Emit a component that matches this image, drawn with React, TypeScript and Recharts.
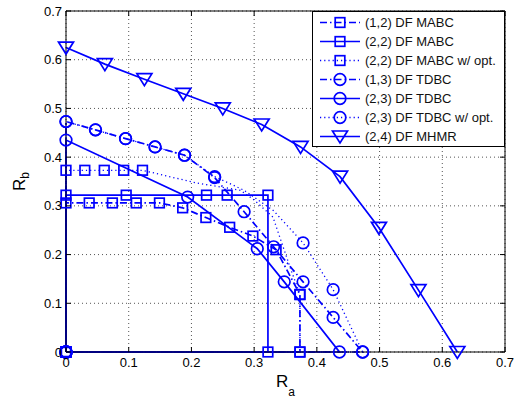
import React from "react";
import {
  CartesianGrid,
  Line,
  LineChart,
  ReferenceLine,
  XAxis,
  YAxis,
} from "recharts";

const BLUE = "#0000ff";
const TICKS = [0, 0.1, 0.2, 0.3, 0.4, 0.5, 0.6, 0.7];

// plot box edges in px (follow from the chart margins below)
const PLOT_TOP = 11;
const PLOT_RIGHT = 505;
const TICK_LEN = 5;

// (1,2) DF MABC
const MABC12_RA = [0, 0, 0.037, 0.074, 0.112, 0.149, 0.186, 0.223, 0.261, 0.298, 0.335, 0.373, 0.373, 0];
const MABC12_RB = [0, 0.306, 0.306, 0.306, 0.306, 0.306, 0.296, 0.276, 0.256, 0.238, 0.21, 0.118, 0, 0];

// (2,2) DF MABC
const MABC22_RA = [0, 0, 0.096, 0.224, 0.257, 0.322, 0.322, 0];
const MABC22_RB = [0, 0.322, 0.322, 0.322, 0.322, 0.322, 0, 0];

// (2,2) DF MABC w/ opt.
const MABCOPT_RA = [0, 0, 0.03, 0.061, 0.092, 0.122, 0.208, 0.278, 0.3, 0.33, 0.357, 0.373, 0.373, 0];
const MABCOPT_RB = [0, 0.373, 0.373, 0.373, 0.373, 0.373, 0.347, 0.332, 0.312, 0.277, 0.175, 0.118, 0, 0];

// (1,3) DF TDBC
const TDBC13_RA = [0, 0, 0.047, 0.095, 0.142, 0.189, 0.237, 0.284, 0.331, 0.378, 0.426, 0.473, 0];
const TDBC13_RB = [0, 0.473, 0.456, 0.438, 0.421, 0.404, 0.358, 0.288, 0.216, 0.144, 0.071, 0, 0];

// (2,3) DF TDBC
const TDBC23_RA = [0, 0, 0.194, 0.305, 0.348, 0.436, 0];
const TDBC23_RB = [0, 0.435, 0.318, 0.212, 0.144, 0, 0];

// (2,3) DF TDBC w/ opt.
const TDBCOPT_RA = [0, 0, 0.047, 0.095, 0.142, 0.189, 0.237, 0.284, 0.331, 0.378, 0.426, 0.473, 0];
const TDBCOPT_RB = [0, 0.473, 0.456, 0.438, 0.421, 0.404, 0.36, 0.332, 0.29, 0.224, 0.128, 0, 0];

// (2,4) DF MHMR
const MHMR_RA = [0, 0.062, 0.125, 0.187, 0.25, 0.312, 0.374, 0.437, 0.499, 0.562, 0.624];
const MHMR_RB = [0.625, 0.591, 0.56, 0.53, 0.5, 0.467, 0.421, 0.36, 0.255, 0.127, 0];

const toPoints = (ra: number[], rb: number[]) =>
  ra.map((x, i) => ({ ra: x, rb: rb[i] }));

type Shape = "square" | "circle" | "triangle";

interface Series {
  name: string;
  data: { ra: number; rb: number }[];
  dash?: string;
  width: number;
  shape: Shape;
  marks?: number[];
}

const DASHDOT = "7 3 1.5 3";
const DOTTED = "1.2 3";

const SERIES: Series[] = [
  { name: "(1,2) DF MABC", data: toPoints(MABC12_RA, MABC12_RB), dash: DASHDOT, width: 1.7, shape: "square" },
  { name: "(2,2) DF MABC", data: toPoints(MABC22_RA, MABC22_RB), width: 1.7, shape: "square" },
  {
    name: "(2,2) DF MABC w/ opt.",
    data: toPoints(MABCOPT_RA, MABCOPT_RB),
    dash: DOTTED,
    width: 1.3,
    shape: "square",
    marks: [0, 1, 2, 3, 4, 5, 11, 12, 13],
  },
  { name: "(1,3) DF TDBC", data: toPoints(TDBC13_RA, TDBC13_RB), dash: DASHDOT, width: 1.7, shape: "circle" },
  { name: "(2,3) DF TDBC", data: toPoints(TDBC23_RA, TDBC23_RB), width: 1.7, shape: "circle" },
  {
    name: "(2,3) DF TDBC w/ opt.",
    data: toPoints(TDBCOPT_RA, TDBCOPT_RB),
    dash: DOTTED,
    width: 1.3,
    shape: "circle",
    marks: [0, 1, 2, 3, 4, 5, 6, 9, 10, 11, 12],
  },
  { name: "(2,4) DF MHMR", data: toPoints(MHMR_RA, MHMR_RB), width: 1.7, shape: "triangle" },
];

function Marker({ shape, cx, cy }: { shape: Shape; cx: number; cy: number }) {
  const common = { fill: "none", stroke: BLUE, strokeWidth: 1.7 };
  if (shape === "square") {
    return <rect x={cx - 4.8} y={cy - 4.8} width={9.6} height={9.6} {...common} />;
  }
  if (shape === "circle") {
    return <circle cx={cx} cy={cy} r={5.8} {...common} />;
  }
  return (
    <polygon
      points={`${cx - 7.5},${cy - 5.5} ${cx + 7.5},${cy - 5.5} ${cx},${cy + 6.5}`}
      {...common}
    />
  );
}

const FONT = "Arial, 'Liberation Sans', sans-serif";

// tick label plus MATLAB-style inward tick marks on both sides of the box
function XTick({ x, y, payload }: any) {
  const axisY = y - 6;
  return (
    <g>
      <line x1={x} x2={x} y1={axisY} y2={axisY - TICK_LEN} stroke="#000" />
      <line x1={x} x2={x} y1={PLOT_TOP} y2={PLOT_TOP + TICK_LEN} stroke="#000" />
      <text x={x} y={y} dy="0.71em" textAnchor="middle" fontSize={13} fill="#000" fontFamily={FONT}>
        {payload.value}
      </text>
    </g>
  );
}

function YTick({ x, y, payload }: any) {
  const axisX = x + 4;
  return (
    <g>
      <line x1={axisX} x2={axisX + TICK_LEN} y1={y} y2={y} stroke="#000" />
      <line x1={PLOT_RIGHT} x2={PLOT_RIGHT - TICK_LEN} y1={y} y2={y} stroke="#000" />
      <text x={x} y={y} dy="0.355em" textAnchor="end" fontSize={13} fill="#000" fontFamily={FONT}>
        {payload.value}
      </text>
    </g>
  );
}

const RaLabel = () => (
  <text x={276} y={387} fill="#000" fontSize={17} fontFamily={FONT}>
    R
    <tspan dy={9} fontSize={12}>
      a
    </tspan>
  </text>
);

const RbLabel = () => (
  <text transform="translate(25,191) rotate(-90)" fill="#000" fontSize={17} fontFamily={FONT}>
    R
    <tspan dy={4} fontSize={12}>
      b
    </tspan>
  </text>
);

export default function App() {
  return (
    <div style={{ position: "absolute", left: 0, top: 0, width: 515, height: 400, background: "#fff" }}>
      <LineChart width={515} height={400} margin={{ top: PLOT_TOP, right: 10, left: 0, bottom: 18 }}>
        <CartesianGrid stroke="#555" strokeDasharray="1 3" />
        <XAxis
          type="number"
          dataKey="ra"
          domain={[0, 0.7]}
          ticks={TICKS}
          height={30}
          tickLine={false}
          tickSize={0}
          tickMargin={6}
          axisLine={{ stroke: "#000" }}
          tick={<XTick />}
          allowDuplicatedCategory={false}
        />
        <YAxis
          type="number"
          dataKey="rb"
          domain={[0, 0.7]}
          ticks={TICKS}
          width={66}
          tickLine={false}
          tickSize={0}
          tickMargin={4}
          axisLine={{ stroke: "#000" }}
          tick={<YTick />}
        />
        <ReferenceLine y={0.7} stroke="#000" />
        <ReferenceLine x={0.7} stroke="#000" />
        {SERIES.map((s) => (
          <Line
            key={s.name}
            data={s.data}
            dataKey="rb"
            type="linear"
            stroke={BLUE}
            strokeWidth={s.width}
            strokeDasharray={s.dash}
            isAnimationActive={false}
            dot={(p: any) =>
              !s.marks || s.marks.includes(p.index) ? (
                <Marker key={p.index} shape={s.shape} cx={p.cx} cy={p.cy} />
              ) : (
                <g key={p.index} />
              )
            }
            activeDot={false}
          />
        ))}
        <RaLabel />
        <RbLabel />
      </LineChart>

      <div
        style={{
          position: "absolute",
          left: 312,
          top: PLOT_TOP,
          width: 193,
          height: 136,
          boxSizing: "border-box",
          border: "1px solid #000",
          background: "#fff",
          fontFamily: FONT,
          fontSize: 13,
        }}
      >
        {SERIES.map((s, i) => (
          <div
            key={s.name}
            style={{
              position: "absolute",
              left: 0,
              top: 1 + i * 19,
              height: 19,
              display: "flex",
              alignItems: "center",
              whiteSpace: "nowrap",
            }}
          >
            <svg width={52} height={19} style={{ display: "block" }}>
              <line
                x1={7}
                x2={47}
                y1={9.5}
                y2={9.5}
                stroke={BLUE}
                strokeWidth={s.width}
                strokeDasharray={s.dash}
              />
              <Marker shape={s.shape} cx={27} cy={9.5} />
            </svg>
            <span style={{ color: "#111" }}>{s.name}</span>
          </div>
        ))}
      </div>
    </div>
  );
}
